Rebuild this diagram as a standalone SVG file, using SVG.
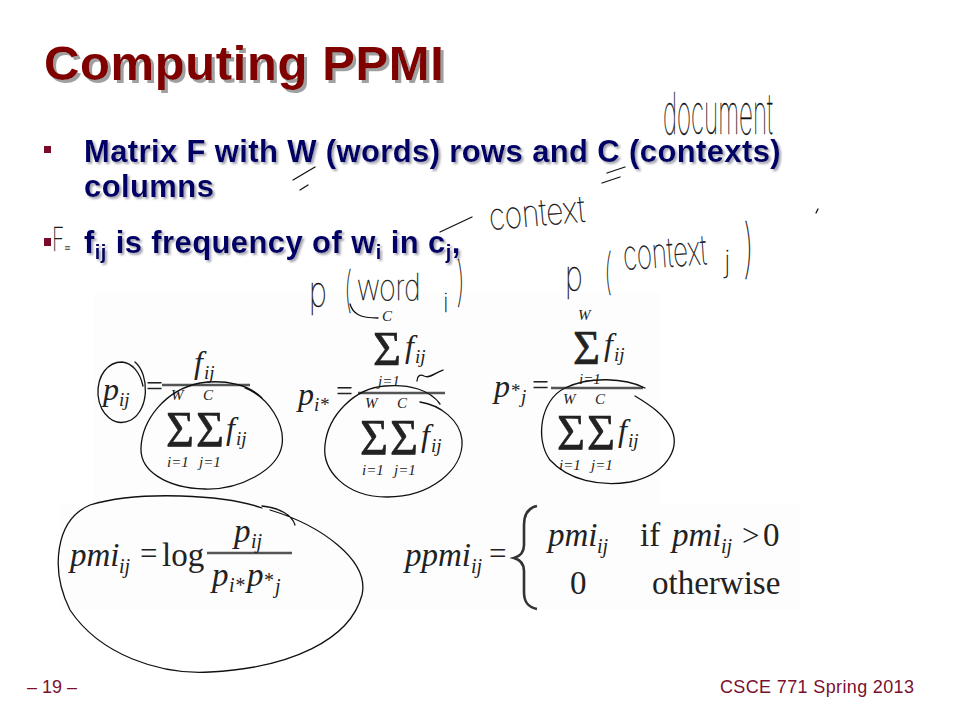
<svg xmlns="http://www.w3.org/2000/svg" width="960" height="720" viewBox="0 0 960 720">
<defs>
<filter id="tsh" x="-5%" y="-20%" width="110%" height="150%">
<feDropShadow dx="3" dy="3" stdDeviation="0.3" flood-color="#a0a0a0" flood-opacity="1"/>
</filter>
<filter id="bsh" x="-5%" y="-20%" width="110%" height="150%">
<feDropShadow dx="2" dy="2" stdDeviation="0.8" flood-color="#8a8a9a" flood-opacity="0.8"/>
</filter>
<style>
.title{font-family:"Liberation Sans",Arial,sans-serif;font-weight:bold;font-size:49px;letter-spacing:0.6px;fill:#800000}
.bul{font-family:"Liberation Sans",Arial,sans-serif;font-weight:bold;font-size:31px;letter-spacing:0.4px;fill:#000066}
.mi{font-family:"Liberation Serif","Times New Roman",serif;font-style:italic;fill:#222}
.mr{font-family:"Liberation Serif","Times New Roman",serif;fill:#222}
.sg{font-family:"Liberation Serif","Times New Roman",serif;fill:#222;stroke:#222;stroke-width:0.6}
.bar{stroke:#555;stroke-width:2.5}
.ink{fill:none;stroke:#111;stroke-width:1.3;stroke-linecap:round;stroke-linejoin:round}
.hw{font-family:Inter,Roboto,"DejaVu Sans",sans-serif;font-weight:100;fill:#111;stroke:#111;stroke-width:0.35}
.foot{font-family:"Liberation Sans",Arial,sans-serif;font-size:18px;fill:#7a1030}
</style>
</defs>
<rect width="960" height="720" fill="#ffffff"/>

<g id="title">
<text class="title" x="44" y="80" filter="url(#tsh)">Computing PPMI</text>
</g>

<g id="bullet1">
<rect x="44" y="146" width="7" height="7" fill="#7a0a28"/>
<text class="bul" x="84" y="162" textLength="697" filter="url(#bsh)">Matrix F with W (words) rows and C (contexts)</text>
<text class="bul" x="84" y="197" filter="url(#bsh)">columns</text>
</g>

<g id="bullet2">
<rect x="44" y="238" width="7" height="8" fill="#7a0a28"/>
<text class="bul" x="84" y="253" filter="url(#bsh)">f<tspan font-size="20" dy="6">ij</tspan><tspan dy="-6"> is frequency of w</tspan><tspan font-size="20" dy="6">i</tspan><tspan dy="-6"> in c</tspan><tspan font-size="20" dy="6">j</tspan><tspan dy="-6">,</tspan></text>
</g>

<g id="formula-boxes">
<rect x="93" y="293" width="567" height="212" fill="#fdfdfd"/>
<rect x="60" y="505" width="740" height="105" fill="#fdfdfd"/>
</g>

<g id="formula-pij">
<text class="mi" x="103" y="400" font-size="32">p</text>
<text class="mi" x="119" y="406" font-size="19">ij</text>
<text class="mr" x="146" y="396" font-size="30">=</text>
<line class="bar" x1="162" y1="385" x2="250" y2="385"/>
<text class="mi" x="194" y="373" font-size="32">f</text>
<text class="mi" x="204" y="379" font-size="19">ij</text>
<text class="mi" x="171" y="400" font-size="15">W</text>
<text class="mi" x="203" y="400" font-size="15">C</text>
<text class="sg" x="166" y="446" font-size="50" textLength="28" lengthAdjust="spacingAndGlyphs">Σ</text>
<text class="sg" x="196" y="446" font-size="50" textLength="28" lengthAdjust="spacingAndGlyphs">Σ</text>
<text class="mi" x="226" y="439" font-size="32">f</text>
<text class="mi" x="236" y="445" font-size="19">ij</text>
<text class="mi" x="167" y="467" font-size="15">i<tspan class="mr">=1</tspan></text>
<text class="mi" x="199" y="467" font-size="15">j<tspan class="mr">=1</tspan></text>
</g>

<g id="formula-pistar">
<text class="mi" x="298" y="405" font-size="32">p</text>
<text class="mi" x="314" y="411" font-size="19">i<tspan class="mr">*</tspan></text>
<text class="mr" x="336" y="401" font-size="30">=</text>
<line class="bar" x1="358" y1="393" x2="445" y2="393"/>
<text class="mi" x="382" y="321" font-size="15">C</text>
<text class="sg" x="373" y="365" font-size="48" textLength="28" lengthAdjust="spacingAndGlyphs">Σ</text>
<text class="mi" x="405" y="357" font-size="32">f</text>
<text class="mi" x="415" y="363" font-size="19">ij</text>
<text class="mi" x="378" y="386" font-size="15">j<tspan class="mr">=1</tspan></text>
<text class="mi" x="365" y="408" font-size="15">W</text>
<text class="mi" x="397" y="408" font-size="15">C</text>
<text class="sg" x="360" y="454" font-size="50" textLength="28" lengthAdjust="spacingAndGlyphs">Σ</text>
<text class="sg" x="390" y="454" font-size="50" textLength="28" lengthAdjust="spacingAndGlyphs">Σ</text>
<text class="mi" x="421" y="446" font-size="32">f</text>
<text class="mi" x="431" y="452" font-size="19">ij</text>
<text class="mi" x="362" y="475" font-size="15">i<tspan class="mr">=1</tspan></text>
<text class="mi" x="394" y="475" font-size="15">j<tspan class="mr">=1</tspan></text>
</g>

<g id="formula-pstarj">
<text class="mi" x="494" y="397" font-size="32">p</text>
<text class="mr" x="511" y="397" font-size="19">*</text>
<text class="mi" x="521" y="403" font-size="19">j</text>
<text class="mr" x="532" y="395" font-size="30">=</text>
<line class="bar" x1="551" y1="388" x2="643" y2="388"/>
<text class="mi" x="578" y="320" font-size="15">W</text>
<text class="sg" x="573" y="364" font-size="48" textLength="27" lengthAdjust="spacingAndGlyphs">Σ</text>
<text class="mi" x="604" y="355" font-size="32">f</text>
<text class="mi" x="614" y="361" font-size="19">ij</text>
<text class="mi" x="579" y="384" font-size="15">i<tspan class="mr">=1</tspan></text>
<text class="mi" x="563" y="404" font-size="15">W</text>
<text class="mi" x="595" y="404" font-size="15">C</text>
<text class="sg" x="557" y="449" font-size="50" textLength="28" lengthAdjust="spacingAndGlyphs">Σ</text>
<text class="sg" x="587" y="449" font-size="50" textLength="28" lengthAdjust="spacingAndGlyphs">Σ</text>
<text class="mi" x="618" y="441" font-size="32">f</text>
<text class="mi" x="628" y="447" font-size="19">ij</text>
<text class="mi" x="559" y="470" font-size="15">i<tspan class="mr">=1</tspan></text>
<text class="mi" x="591" y="470" font-size="15">j<tspan class="mr">=1</tspan></text>
</g>

<g id="formula-pmi">
<text class="mi" x="70" y="566" font-size="33">pmi</text>
<text class="mi" x="119" y="573" font-size="20">ij</text>
<text class="mr" x="140" y="564" font-size="31">=</text>
<text class="mr" x="162" y="566" font-size="33">log</text>
<line class="bar" x1="207" y1="553" x2="292" y2="553"/>
<text class="mi" x="234" y="542" font-size="33">p</text>
<text class="mi" x="251" y="548" font-size="20">ij</text>
<text class="mi" x="212" y="586" font-size="33">p</text>
<text class="mi" x="229" y="592" font-size="20">i<tspan class="mr">*</tspan></text>
<text class="mi" x="247" y="586" font-size="33">p</text>
<text class="mr" x="264" y="587" font-size="20">*</text>
<text class="mi" x="275" y="593" font-size="20">j</text>
</g>

<g id="formula-ppmi">
<text class="mi" x="405" y="566" font-size="33">ppmi</text>
<text class="mi" x="471" y="573" font-size="20">ij</text>
<text class="mr" x="489" y="564" font-size="31">=</text>
<path d="M537,506 C527,508 524,515 524,525 L524,545 C524,552 521,556 514,558 C521,560 524,564 524,571 L524,592 C524,601 527,607 537,609" fill="none" stroke="#333" stroke-width="2.6"/>
<text class="mi" x="548" y="546" font-size="33">pmi</text>
<text class="mi" x="597" y="553" font-size="20">ij</text>
<text class="mr" x="640" y="546" font-size="33">if</text>
<text class="mi" x="672" y="546" font-size="33">pmi</text>
<text class="mi" x="721" y="553" font-size="20">ij</text>
<text class="mr" x="742" y="546" font-size="31">&gt;</text>
<text class="mr" x="763" y="546" font-size="33">0</text>
<text class="mr" x="570" y="594" font-size="33">0</text>
<text class="mr" x="652" y="594" font-size="33">otherwise</text>
</g>

<g id="ink">
<path class="ink" d="M293,180 L315,167 M300,190 L308,185"/>
<path class="ink" d="M607,173 L625,167 M602,183 L620,177"/>
<path class="ink" d="M440,232 L472,217"/>
<path class="ink" d="M350,304 C353,314 360,318 378,318"/>
<path class="ink" d="M816,213 l2,-4"/>
<path class="ink" d="M417,381 C417,376 420,374 424,376 C430,379 436,372 443,370"/>
<path class="ink" d="M135,362 C150,375 149,410 131,420 C115,428 100,415 98,395 C97,375 108,362 122,362 C132,363 140,372 143,386"/>
<path class="ink" d="M245,388 C270,398 285,425 282,445 C278,470 240,490 205,489 C165,488 140,470 141,448 C142,420 165,390 200,383 C225,379 250,385 262,398"/>
<path class="ink" d="M420,402 C440,405 460,420 462,440 C464,470 430,497 387,497 C345,497 322,470 325,445 C328,415 355,388 385,386 C410,384 430,390 440,404"/>
<path class="ink" d="M645,388 C625,378 590,376 565,388 C540,400 535,440 550,460 C568,480 600,487 630,482 C665,475 680,450 672,430 C665,415 650,405 635,396"/>
<path class="ink" d="M262,508 C225,495 140,490 90,505 C55,520 50,570 70,610 C100,655 160,675 210,672 C290,668 350,640 362,595 C370,560 320,525 270,510 M262,506 C280,508 292,515 295,525"/>
</g>

<g id="handwriting">
<text class="hw" font-size="44" transform="translate(663,134) scale(0.55,1.3)">document</text>
<text class="hw" font-size="32" transform="translate(490,230) rotate(-5) scale(0.93,1.15)">context</text>
<text class="hw" font-size="38" transform="translate(309,306) scale(0.8,1.1)">p</text>
<text class="hw" font-size="44" transform="translate(344,306) scale(0.6,1.1)">(</text>
<text class="hw" font-size="32" transform="translate(357,300) scale(0.88,1.15)">word</text>
<text class="hw" font-size="26" x="443" y="312">i</text>
<text class="hw" font-size="48" transform="translate(456,300) scale(0.6,1.1)">)</text>
<text class="hw" font-size="38" transform="translate(565,290) scale(0.8,1.1)">p</text>
<text class="hw" font-size="44" transform="translate(604,288) scale(0.6,1.1)">(</text>
<text class="hw" font-size="36" transform="translate(624,270) rotate(-4) scale(0.72,1.15)">context</text>
<text class="hw" font-size="30" x="724" y="272">j</text>
<text class="hw" font-size="58" transform="translate(743,270) scale(0.6,1.1)">)</text>
<text class="hw" font-size="30" transform="translate(52,251) scale(0.7,1.1)">F</text>
<text class="hw" font-size="14" x="63" y="252">=</text>
</g>

<g id="footer">
<text class="foot" x="27" y="693">– 19 –</text>
<text class="foot" x="720" y="693" textLength="194">CSCE 771 Spring 2013</text>
</g>
</svg>
